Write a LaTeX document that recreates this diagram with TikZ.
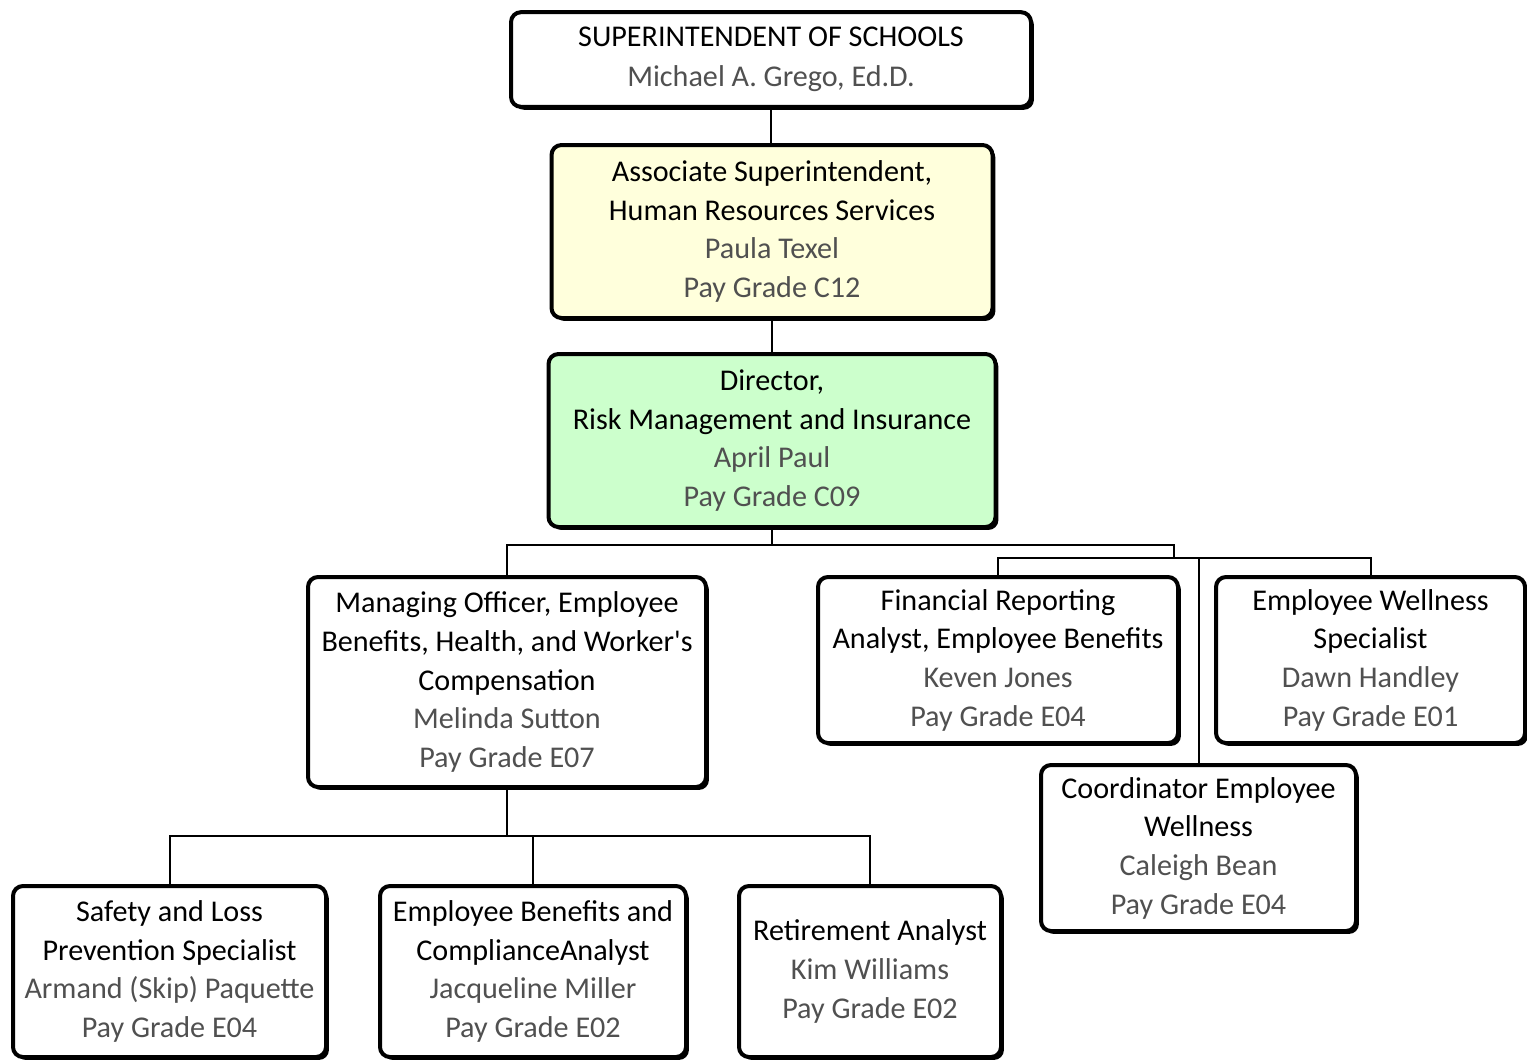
\documentclass[tikz,border=0pt]{standalone}
\usepackage{fontspec}
\setmainfont{Carlito}[Ligatures=TeXOff]
\usetikzlibrary{shadows}
\pgfdeclarelayer{bg}
\pgfsetlayers{bg,main}
\definecolor{boxyellow}{HTML}{FFFFDC}
\definecolor{boxgreen}{HTML}{CCFFCC}
\definecolor{namegray}{HTML}{505050}
\newcommand{\nm}[1]{{\color{namegray}#1}}
\tikzset{
  orgbox/.style={draw=black, line width=3pt, rounded corners=7.5pt, fill=white,
    align=center, inner sep=0pt, font=\fontsize{22.6}{29}\selectfont,
    drop shadow={shadow xshift=2.2pt, shadow yshift=-2.2pt, fill=black, opacity=1}},
  conn/.style={draw=black, line width=1.5pt},
}
\begin{document}
\begin{tikzpicture}[x=0.75pt, y=-0.75pt]
\useasboundingbox (0,0) rectangle (1527,1061);
\clip (0,0) rectangle (1527,1061);
% nodes
\node[orgbox, minimum width=390pt, minimum height=71pt] (sup) at (771,59.5)
  {SUPERINTENDENT OF SCHOOLS\\[1pt]\nm{Michael A. Grego, Ed.D.}};
\node[orgbox, fill=boxyellow, minimum width=330.75pt, minimum height=129.75pt] (assoc) at (772,231.5)
  {Associate Superintendent,\\Human Resources Services\\\nm{Paula Texel}\\\nm{Pay Grade C12}};
\node[orgbox, fill=boxgreen, minimum width=335.25pt, minimum height=129.75pt] (dir) at (772,440.5)
  {Director,\\Risk Management and Insurance\\\nm{April Paul}\\\nm{Pay Grade C09}};
\node[orgbox, minimum width=298.5pt, minimum height=157.5pt] (mgr) at (507,682)
  {Managing Officer, Employee\\Benefits, Health, and Worker's\\Compensation\\\nm{Melinda Sutton}\\\nm{Pay Grade E07}};
\node[orgbox, minimum width=270pt, minimum height=124.5pt] (fin) at (998,660)
  {Financial Reporting\\Analyst, Employee Benefits\\\nm{Keven Jones}\\\nm{Pay Grade E04}};
\node[orgbox, minimum width=231.75pt, minimum height=124.5pt] (wel) at (1370.5,660)
  {Employee Wellness\\Specialist\\\nm{Dawn Handley}\\\nm{Pay Grade E01}};
\node[orgbox, minimum width=236.25pt, minimum height=124.5pt] (coord) at (1198.5,848)
  {Coordinator Employee\\Wellness\\\nm{Caleigh Bean}\\\nm{Pay Grade E04}};
\node[orgbox, minimum width=234.75pt, minimum height=128.25pt] (safe) at (169.5,971.5)
  {Safety and Loss\\Prevention Specialist\\\nm{Armand (Skip) Paquette}\\\nm{Pay Grade E04}};
\node[orgbox, minimum width=229.5pt, minimum height=128.25pt] (ebc) at (533,971.5)
  {Employee Benefits and\\ComplianceAnalyst\\\nm{Jacqueline Miller}\\\nm{Pay Grade E02}};
\node[orgbox, minimum width=196.5pt, minimum height=128.25pt] (ret) at (870,971.5)
  {Retirement Analyst\\\nm{Kim Williams}\\\nm{Pay Grade E02}};
% connectors (behind boxes)
\coordinate (h1) at (771,545);
\coordinate (k) at (1174,545);
\coordinate (h2) at (1198,558);
\coordinate (h3) at (532,836);
\begin{pgfonlayer}{bg}
\draw[conn] (sup.south) -- (sup.south |- assoc.north);
\draw[conn] (assoc.south) -- (assoc.south |- dir.north);
\draw[conn] (dir.south) -- (dir.south |- h1);
\draw[conn] (mgr.north) |- (k) -- (k |- h2);
\draw[conn] (fin.north) |- (wel.north |- h2) -- (wel.north);
\draw[conn] (coord.north) -- (coord.north |- h2);
\draw[conn] (mgr.south) -- (mgr.south |- h3);
\draw[conn] (safe.north) |- (ret.north |- h3) -- (ret.north);
\draw[conn] (ebc.north) -- (ebc.north |- h3);
\end{pgfonlayer}
\end{tikzpicture}
\end{document}
